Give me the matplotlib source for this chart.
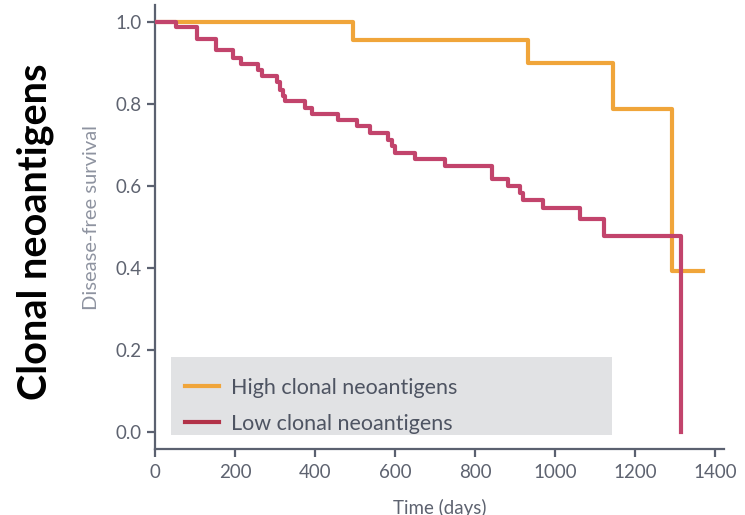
import matplotlib.pyplot as plt
from matplotlib.patches import Rectangle
from matplotlib.lines import Line2D

plt.rcParams['font.family'] = ['Lato', 'DejaVu Sans']

# Curva de supervivencia: alto nivel de neoantígenos clonales
high_t = [0, 496, 932, 1145, 1292, 1369]
high_s = [1.0, 0.954, 0.90, 0.788, 0.393, 0.393]

# Curva de supervivencia: bajo nivel de neoantígenos clonales
low_t = [0, 52, 106, 152, 194, 215, 258, 267, 306, 312, 319, 325, 375, 392, 458,
         504, 536, 583, 592, 600, 650, 725, 842, 883, 912, 919, 970, 1062, 1123, 1315]
low_s = [1.0, 0.987, 0.957, 0.930, 0.911, 0.897, 0.883, 0.868, 0.854, 0.834, 0.818,
         0.806, 0.790, 0.776, 0.761, 0.745, 0.728, 0.712, 0.696, 0.680, 0.665, 0.649,
         0.616, 0.600, 0.582, 0.566, 0.546, 0.519, 0.479, 0.0]

labels = ['High clonal neoantigens', 'Low clonal neoantigens']
x_ticks = [0, 200, 400, 600, 800, 1000, 1200, 1400]
y_ticks = [0.0, 0.2, 0.4, 0.6, 0.8, 1.0]

orange = '#F0A53A'
crimson = '#C2446C'
axis_col = '#5B6170'

fig = plt.figure(figsize=(7.45, 5.15), dpi=100)
ax = fig.add_axes([0.208, 0.128, 0.764, 0.862])

ax.step(high_t, high_s, where='post', color=orange, lw=3, zorder=3)
ax.step(low_t, low_s, where='post', color=crimson, lw=3, zorder=4)

ax.set_xlim(0, 1422)
ax.set_ylim(-0.041, 1.04)
ax.set_xticks(x_ticks)
ax.set_yticks(y_ticks)
ax.set_yticklabels([f'{v:.1f}' for v in y_ticks])

for s in ['top', 'right']:
    ax.spines[s].set_visible(False)
for s in ['left', 'bottom']:
    ax.spines[s].set_color(axis_col)
    ax.spines[s].set_linewidth(1.6)
ax.tick_params(colors=axis_col, width=1.6, length=6, labelsize=13.5, labelcolor='#5E6370')
ax.tick_params(axis='x', pad=5)

ax.set_xlabel('Time (days)', fontsize=13.5, color='#5E6370', labelpad=13)
fig.text(0.123, 0.577, 'Disease-free survival', rotation=90, ha='center', va='center',
         fontsize=14.5, color='#8E93A0')
fig.text(0.047, 0.55, 'Clonal neoantigens', rotation=90, ha='center', va='center',
         fontsize=28.5, fontweight='bold', color='black')

# caja gris de la leyenda
ax.add_patch(Rectangle((0.029, 0.0315), 0.774, 0.1755, transform=ax.transAxes,
                       facecolor='#E1E2E4', edgecolor='none', zorder=1))
handles = [Line2D([], [], color=orange, lw=3), Line2D([], [], color='#B23248', lw=3)]
ax.legend(handles, labels, loc='center left', bbox_to_anchor=(0.052, 0.098),
          frameon=False, fontsize=15.5, handlelength=1.6, handletextpad=0.55,
          labelspacing=0.75, borderpad=0, borderaxespad=0, labelcolor='#4E5462')

fig.savefig('out.png', dpi=100)
